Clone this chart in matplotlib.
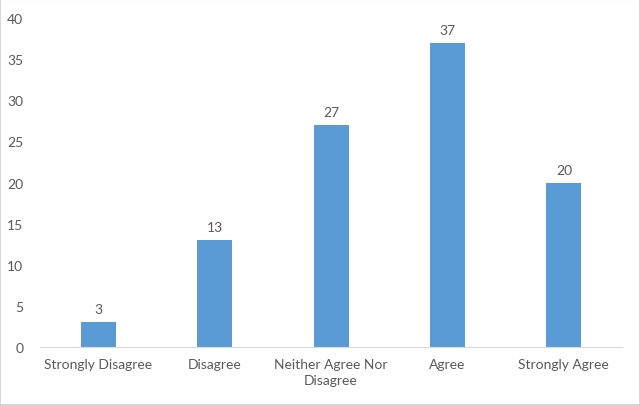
import matplotlib
matplotlib.use("Agg")
import matplotlib.pyplot as plt
from matplotlib.patches import Rectangle

categories = ["Strongly Disagree", "Disagree", "Neither Agree Nor\nDisagree", "Agree", "Strongly Agree"]
values = [3, 13, 27, 37, 20]
yticks = [0, 5, 10, 15, 20, 25, 30, 35, 40]

plt.rcParams['font.family'] = ['Lato', 'DejaVu Sans']
txt = '#595959'

fig = plt.figure(figsize=(6.4, 4.06), dpi=100)
fig.patches.append(Rectangle((0, 0), 1, 1, transform=fig.transFigure, fill=False,
                             edgecolor='#d9d9d9', linewidth=1.5))
ax = fig.add_axes([0.0625, 0.1429, 0.9095, 0.8100])
x = list(range(len(categories)))
bars = ax.bar(x, values, width=0.3, color='#5B9BD5', zorder=2)
ax.set_xlim(-0.5, len(categories) - 0.5)
ax.set_ylim(0, 40)
ax.set_yticks(yticks)
ax.set_yticklabels([str(t) for t in yticks], color=txt, fontsize=10)
ax.set_xticks(x)
ax.set_xticklabels(categories, color=txt, fontsize=10, linespacing=1.35)
ax.tick_params(length=0)
ax.tick_params(axis='y', pad=12)
ax.tick_params(axis='x', pad=8)
for s in ['top', 'right', 'left']:
    ax.spines[s].set_visible(False)
ax.spines['bottom'].set_color('#d9d9d9')
for xi, v in zip(x, values):
    ax.annotate(str(v), (xi, v), xytext=(0, 5), textcoords='offset points',
                ha='center', va='bottom', color=txt, fontsize=10)
fig.savefig('out.png', dpi=100)
